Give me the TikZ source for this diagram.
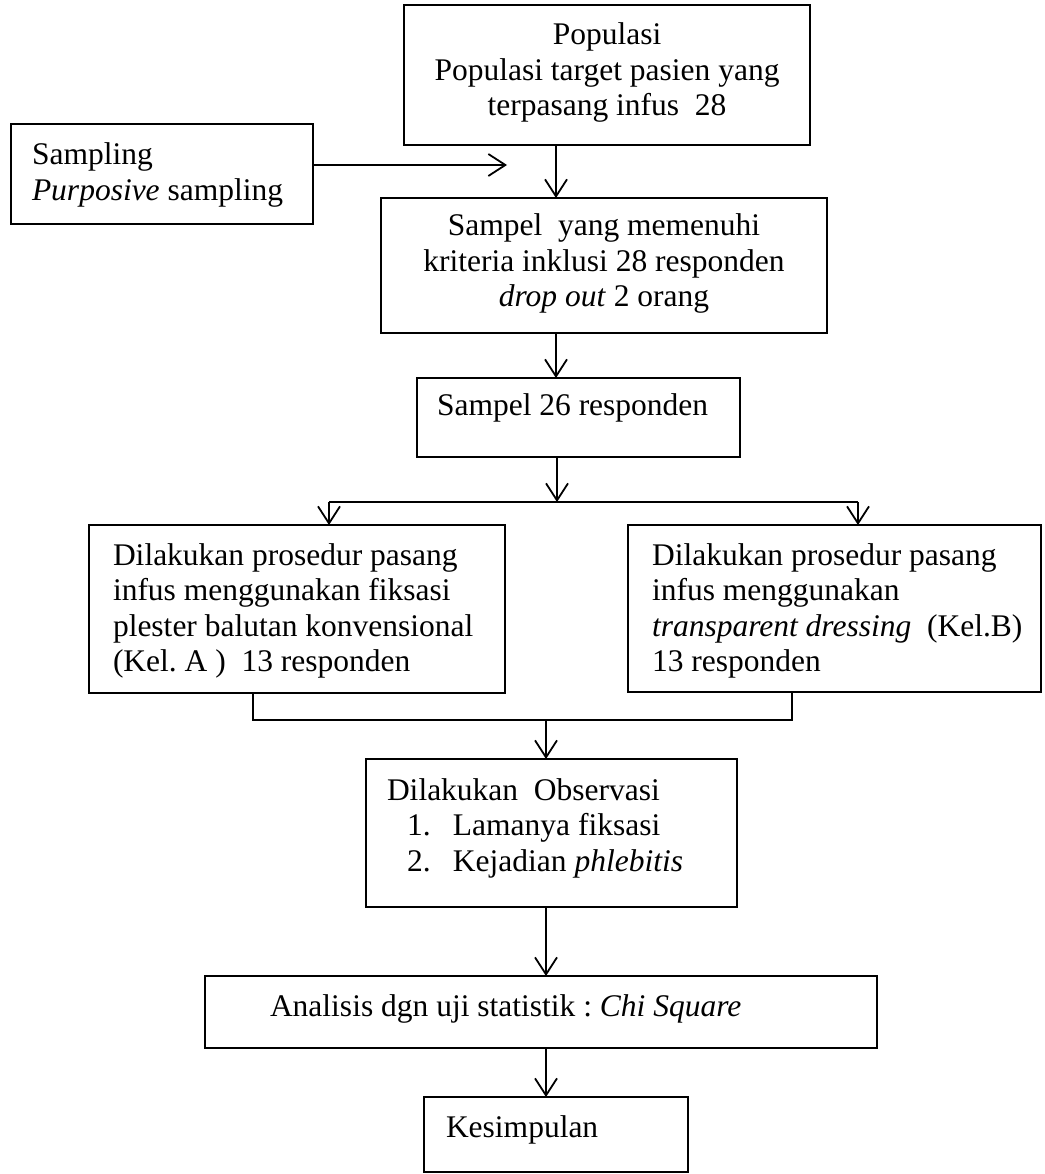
\documentclass[tikz,border=0pt]{standalone}
\usepackage{fontspec}
\setmainfont{Liberation Serif}
\usetikzlibrary{arrows.meta}
\newcommand\mlines[2]{\begin{tabular}[t]{@{}#1@{}}#2\end{tabular}}
\frenchspacing
\begin{document}
\begin{tikzpicture}[x=1pt,y=-1pt,
  box/.style={draw, line width=1.8pt, inner sep=0pt, outer sep=0pt, anchor=north west},
  txt/.style={inner sep=0pt, outer sep=0pt, font=\fontsize{31.5}{35.5}\selectfont},
  arr/.style={line width=1.8pt, -{Straight Barb[length=17pt,width=22pt]}},
  ln/.style={line width=1.8pt}]
\useasboundingbox (0,0) rectangle (1044,1174);

% boxes
\node[box, minimum width=406pt, minimum height=140pt] (pop) at (404,5) {};
\node[box, minimum width=302pt, minimum height=100pt] (samp) at (11,124) {};
\node[box, minimum width=446pt, minimum height=135pt] (kri) at (381,198) {};
\node[box, minimum width=323pt, minimum height=79pt] (s26) at (417,378) {};
\node[box, minimum width=416pt, minimum height=168pt] (ka) at (89,525) {};
\node[box, minimum width=413pt, minimum height=167pt] (kb) at (628,525) {};
\node[box, minimum width=371pt, minimum height=148pt] (obs) at (366,759) {};
\node[box, minimum width=672pt, minimum height=72pt] (ana) at (205,976) {};
\node[box, minimum width=264pt, minimum height=75pt] (kes) at (424,1097) {};

% texts
\node[txt, anchor=base] (popt) at (607,45) {\mlines{c}{Populasi\\Populasi target pasien yang\\terpasang infus\ \ 28}};
\node[txt, anchor=base west] (sampt) at (32,165) {\mlines{l}{Sampling\\\textit{Purposive} sampling}};
\node[txt, anchor=base] (krit) at (604,236) {\mlines{c}{Sampel\ \ yang memenuhi\\kriteria inklusi 28 responden\\\textit{drop out} 2 orang}};
\node[txt, anchor=base west] (s26t) at (437,415) {Sampel 26 responden};
\node[txt, anchor=base west] (kat) at (113,565) {\mlines{l}{Dilakukan prosedur pasang\\infus menggunakan fiksasi\\plester balutan konvensional\\(Kel. A )\ \ 13 responden}};
\node[txt, anchor=base west] (kbt) at (652,565) {\mlines{l}{Dilakukan prosedur pasang\\infus menggunakan\\\textit{transparent dressing}\ \ (Kel.B)\\13 responden}};
\node[txt, anchor=base west] (obst) at (387,800) {\mlines{l}{Dilakukan\ \ Observasi\\\hspace*{20pt}\makebox[46pt][l]{1.}Lamanya fiksasi\\\hspace*{20pt}\makebox[46pt][l]{2.}Kejadian \textit{phlebitis}}};
\node[txt, anchor=base west] (anat) at (270,1016) {Analisis dgn uji statistik : \textit{Chi Square}};
\node[txt, anchor=base west] (kest) at (446,1137) {Kesimpulan};

% connectors
\coordinate (xa) at (556,0);
\coordinate (xb) at (546,0);
\coordinate (sampTip) at (507,165);
\draw[arr] (samp.east |- sampTip) -- (sampTip);
\draw[arr] (pop.south -| xa) -- (kri.north -| xa);
\draw[arr] (kri.south -| xa) -- (s26.north -| xa);
\coordinate (split) at (557,502);
\coordinate (splitL) at (329,502);
\coordinate (splitR) at (858,502);
\draw[arr] (s26.south -| split) -- (split);
\draw[ln] (splitL) -- (splitR);
\draw[arr] (splitL) -- (ka.north -| splitL);
\draw[arr] (splitR) -- (kb.north -| splitR);
\coordinate (jL) at (253,720);
\coordinate (jR) at (792,720);
\coordinate (jM) at (546,720);
\draw[ln] (ka.south -| jL) -- (jL) -- (jR) -- (kb.south -| jR);
\draw[arr] (jM) -- (obs.north -| jM);
\draw[arr] (obs.south -| xb) -- (ana.north -| xb);
\draw[arr] (ana.south -| xb) -- (kes.north -| xb);
\end{tikzpicture}
\end{document}
